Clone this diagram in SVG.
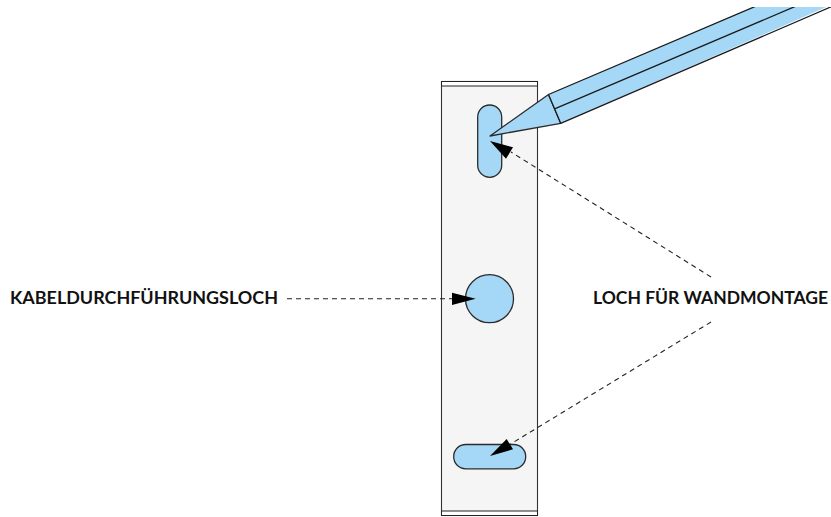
<svg xmlns="http://www.w3.org/2000/svg" width="831" height="517" viewBox="0 0 831 517">
<style>
.s{fill:#a5d8f7;stroke:#2b2b2b;stroke-width:1.3;stroke-linejoin:round}
.l{fill:none;stroke:#1a1a1a;stroke-width:1.3}
.d{fill:none;stroke:#222;stroke-width:1.1;stroke-dasharray:5 4}
.t{font-family:"Lato","Liberation Sans",sans-serif;font-weight:700;font-size:16.5px;fill:#111}
</style>
<defs><clipPath id="c"><rect x="0" y="7" width="831" height="510"/></clipPath></defs>
<rect width="831" height="517" fill="#fff"/>
<g id="plate">
<rect x="441.5" y="81.5" width="96" height="434" fill="#f5f5f5" stroke="#333" stroke-width="1.1"/>
<rect x="441.5" y="81.5" width="96" height="4.5" fill="#fff" stroke="#222" stroke-width="1"/>
<rect x="441.5" y="511" width="96" height="4.5" fill="#fff" stroke="#222" stroke-width="1"/>
</g>
<g id="slot-top"><rect class="s" x="477.7" y="105" width="24" height="72.3" rx="12"/></g>
<g id="hole-cable"><circle class="s" cx="489.5" cy="298.7" r="24"/></g>
<g id="slot-bottom"><rect class="s" x="453.7" y="444.5" width="72" height="24.3" rx="12"/></g>
<g id="pencil" clip-path="url(#c)">
<path d="M490 136L548.5 94.5L560.7 123.3Z" class="s"/>
<path d="M548.5 94.5L768 1L840 1L560.7 123.3Z" fill="#a5d8f7"/>
<path class="l" d="M548.5 94.5L768 1M554.6 108.9L808 1M560.7 123.3L840 3M548.5 94.5L560.7 123.3"/>
</g>
<g id="connectors">
<path class="d" d="M711 277L511 152"/>
<path d="M490 141L513 147.3L506 158.7Z" fill="#000"/>
<path class="d" d="M711 322L509 445"/>
<path d="M490 456L506.7 439L513 449.3Z" fill="#000"/>
<path class="d" d="M287 298.7L454 298.7"/>
<path d="M475.7 298.7L452 292.7L452 305Z" fill="#000"/>
</g>
<g id="label-cable"><text class="t" x="10" y="304" textLength="268" lengthAdjust="spacingAndGlyphs">KABELDURCHFÜHRUNGSLOCH</text></g>
<g id="label-wall"><text class="t" x="593" y="304" textLength="235" lengthAdjust="spacingAndGlyphs">LOCH FÜR WANDMONTAGE</text></g>
</svg>
